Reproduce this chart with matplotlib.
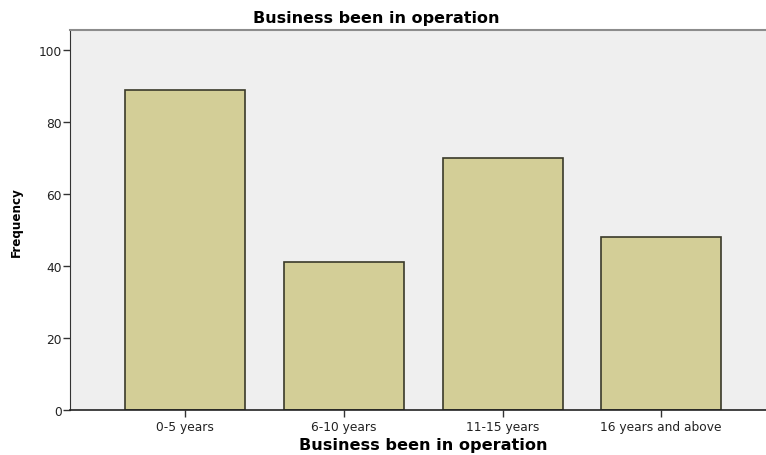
import matplotlib
matplotlib.use("Agg")
import matplotlib.pyplot as plt

categories = ["0-5 years", "6-10 years", "11-15 years", "16 years and above"]
frequency = [89, 41, 70, 48]
y_ticks = [0, 20, 40, 60, 80, 100]

fig = plt.figure(figsize=(7.66, 4.56), dpi=100)
ax = fig.add_axes([70/766, 1 - 411/456, 696/766, 380/456])
ax.set_facecolor("#efefef")

x = list(range(len(categories)))
ax.bar(x, frequency, width=0.756, color="#d3ce97", edgecolor="#3a3a2a", linewidth=1.2, zorder=2)

ax.set_xlim(-0.725, 3.66)
ax.set_ylim(0, 105.6)
ax.set_yticks(y_ticks)
ax.set_yticklabels([str(v) for v in y_ticks], fontsize=8.8, color="#222222")
ax.set_xticks(x)
ax.set_xticklabels(categories, fontsize=8.8, color="#222222")
ax.tick_params(axis="y", direction="out", length=5, width=1, color="#333333", pad=1)
ax.tick_params(axis="x", direction="out", length=5, width=1, color="#333333", pad=2)

ax.spines["right"].set_visible(False)
ax.spines["top"].set_color("#8c8c8c")
ax.spines["top"].set_linewidth(1.5)
ax.spines["left"].set_color("#333333")
ax.spines["bottom"].set_color("#222222")
ax.spines["bottom"].set_linewidth(1.2)

fig.text(376/766, 1 - 18/456, "Business been in operation", fontsize=11.5,
         fontweight="bold", ha="center", va="center")
fig.text(423/766, 1 - 446/456, "Business been in operation", fontsize=11.6,
         fontweight="bold", ha="center", va="center")
fig.text(16/766, 1 - 222/456, "Frequency", fontsize=9.5, fontweight="bold",
         fontstretch="condensed", rotation=90, ha="center", va="center")

fig.savefig("out.png", dpi=100)
